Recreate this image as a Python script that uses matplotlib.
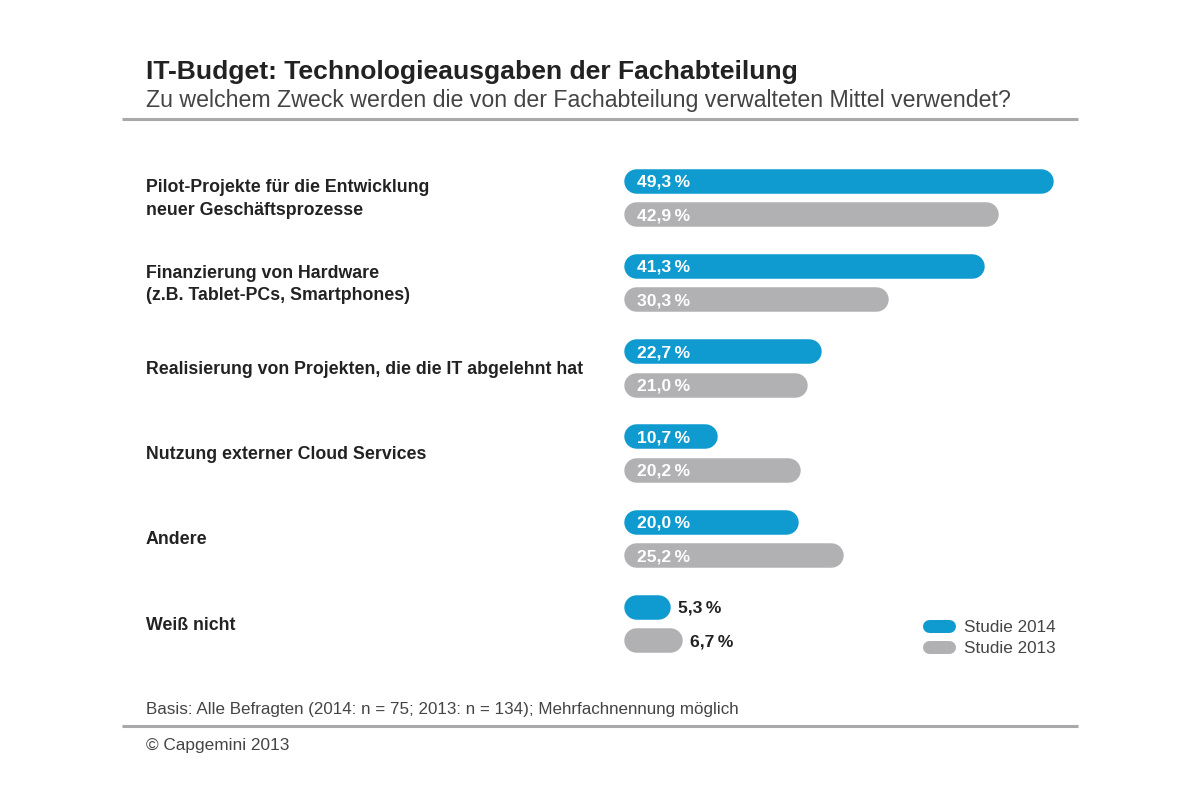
import matplotlib
matplotlib.use("Agg")
import matplotlib.pyplot as plt

plt.rcParams['font.family'] = ['Liberation Sans', 'DejaVu Sans']

categories = ["Pilot-Projekte für die Entwicklung\nneuer Geschäftsprozesse",
              "Finanzierung von Hardware\n(z.B. Tablet-PCs, Smartphones)",
              "Realisierung von Projekten, die die IT abgelehnt hat",
              "Nutzung externer Cloud Services",
              "Andere",
              "Weiß nicht"]
values_2014 = [49.3, 41.3, 22.7, 10.7, 20.0, 5.3]
values_2013 = [42.9, 30.3, 21.0, 20.2, 25.2, 6.7]
series_names = ["Studie 2014", "Studie 2013"]

W, H = 1200, 811
BLUE, GRAY = "#0f9bd0", "#b1b1b3"
DARK = "#222222"
LIGHT = "#444444"
PX_X, PX_Y = 8.72, 85.2      # pixels per percent / per category
X0, Y0 = 623.7, 197.5        # pixel position of value 0 / first category
PT = 72 / 100                # points per pixel at dpi 100

fig = plt.figure(figsize=(W / 100, H / 100), dpi=100, facecolor="white")
ax = fig.add_axes([0, 0, 1, 1])
ax.set_xlim(-X0 / PX_X, (W - X0) / PX_X)
ax.set_ylim((H - Y0) / PX_Y, -Y0 / PX_Y)
ax.axis("off")

def fx(px): return px / W
def fy(py): return 1 - py / H

BAR_PX = 24.5
def pill(v, yc, color):
    r = BAR_PX / 2 / PX_X
    ax.plot([r, v - r], [yc, yc], color=color, lw=BAR_PX * PT, solid_capstyle="round")

def fmt(v):
    return f"{v:.1f}".replace(".", ",") + "\u2009%"

off = 16.75 / PX_Y
for i, (cat, a, b) in enumerate(zip(categories, values_2014, values_2013)):
    ax.text(fx(146), fy(Y0 + i * PX_Y + 1.5), cat, transform=fig.transFigure, ha="left", va="center",
            fontsize=12.75, fontweight="bold", color=DARK, linespacing=1.4)
    for v, yc, col in ((a, i - off, BLUE), (b, i + off, GRAY)):
        pill(v, yc, col)
        if v > 8:
            ax.annotate(fmt(v), (0, yc), xytext=(9.5, 0), textcoords="offset points",
                        ha="left", va="center_baseline", fontsize=12.6, fontweight="bold", color="white")
        else:
            ax.annotate(fmt(v), (v, yc), xytext=(6, 0), textcoords="offset points",
                        ha="left", va="center_baseline", fontsize=12.6, fontweight="bold", color=DARK)

ax.text(fx(146), fy(79.5), "IT-Budget: Technologieausgaben der Fachabteilung", transform=fig.transFigure,
        fontsize=19.05, fontweight="bold", color=DARK, va="baseline")
ax.text(fx(146), fy(107), "Zu welchem Zweck werden die von der Fachabteilung verwalteten Mittel verwendet?",
        transform=fig.transFigure, fontsize=16.68, color=LIGHT, va="baseline")
ax.text(fx(146), fy(714), "Basis: Alle Befragten (2014: n = 75; 2013: n = 134); Mehrfachnennung möglich",
        transform=fig.transFigure, fontsize=12.26, color=LIGHT, va="baseline")
ax.text(fx(146), fy(750), "© Capgemini 2013", transform=fig.transFigure, fontsize=12.4, color=LIGHT, va="baseline")

for py in (118.5, 725.5):
    fig.add_artist(plt.Line2D([fx(122), fx(1078)], [fy(py), fy(py)], color="#a9a9ab", lw=2.2, solid_capstyle="butt"))

# legend
for name, col, py in zip(series_names, (BLUE, GRAY), (625.7, 646.5)):
    fig.add_artist(plt.Line2D([fx(928.5), fx(948.5)], [fy(py), fy(py)], color=col, lw=13 * PT, solid_capstyle="round"))
    fig.text(fx(964), fy(py + 0.5), name, fontsize=12.3, color=LIGHT, va="center_baseline", ha="left")

fig.savefig("out.png", dpi=100, facecolor="white")
